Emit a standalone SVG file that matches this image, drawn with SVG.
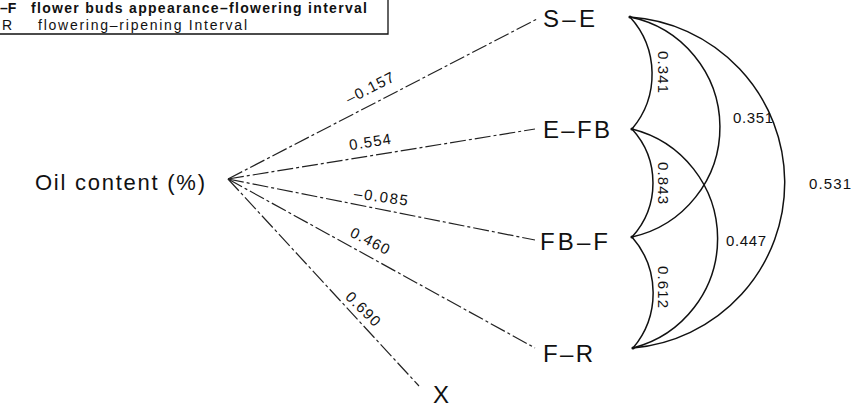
<svg xmlns="http://www.w3.org/2000/svg" width="855" height="411" viewBox="0 0 855 411">
<style>
  .t { font-family: "Liberation Sans", Arial, sans-serif; fill: #111; }
  .node { font-size: 24px; }
  .num { font-size: 15px; }
  .leg { font-size: 14px; }
  .path { fill: none; stroke: #222; stroke-width: 1.2; stroke-dasharray: 16 3 3 3; }
  .arc { fill: none; stroke: #111; stroke-width: 1.5; }
  .box { fill: none; stroke: #111; stroke-width: 1.3; }
</style>
<rect width="855" height="411" fill="#fff"/>

<g id="legend">
  <path class="box" d="M388,0 V34 H0"/>
  <text class="t leg" x="0" y="13" font-weight="bold">–F</text>
  <text class="t leg" x="31" y="13" font-weight="bold" textLength="336" lengthAdjust="spacing">flower buds appearance–flowering interval</text>
  <text class="t leg" x="2" y="30">R</text>
  <text class="t leg" x="38" y="30" textLength="209" lengthAdjust="spacing">flowering–ripening Interval</text>
</g>

<g id="connectors">
  <line class="path" x1="228" y1="179" x2="537" y2="19"/>
  <line class="path" x1="228" y1="179" x2="535" y2="129"/>
  <line class="path" x1="228" y1="179" x2="535" y2="240"/>
  <line class="path" x1="228" y1="179" x2="535" y2="348"/>
  <line class="path" x1="228" y1="179" x2="419" y2="386"/>

  <path class="arc" d="M630,17 A85,85 0 0 1 632,129"/>
  <path class="arc" d="M632,129 A80,80 0 0 1 632,237"/>
  <path class="arc" d="M632,237 A85,85 0 0 1 633,348"/>
  <path class="arc" d="M630,17 A112.5,112.5 0 0 1 632,237"/>
  <path class="arc" d="M632,129 A113,113 0 0 1 633,348"/>
  <path class="arc" d="M630,17 A166,166 0 0 1 633,348"/>
  <circle cx="630" cy="17" r="1.6" fill="#111"/>
  <circle cx="632" cy="129" r="1.6" fill="#111"/>
  <circle cx="632" cy="237" r="1.6" fill="#111"/>
  <circle cx="633" cy="348" r="1.6" fill="#111"/>

  <g text-anchor="middle">
    <text class="t num" transform="translate(370,88) rotate(-27)" y="5" textLength="52" lengthAdjust="spacing">–0.157</text>
    <text class="t num" transform="translate(370,142) rotate(-9)" y="5" textLength="42" lengthAdjust="spacing">0.554</text>
    <text class="t num" transform="translate(381,197) rotate(8)" y="5" textLength="54" lengthAdjust="spacing">–0.085</text>
    <text class="t num" transform="translate(370,241) rotate(27)" y="5" textLength="42" lengthAdjust="spacing">0.460</text>
    <text class="t num" transform="translate(363,309) rotate(45)" y="5" textLength="42" lengthAdjust="spacing">0.690</text>

    <text class="t num" transform="translate(663,72) rotate(90)" y="5" textLength="42" lengthAdjust="spacing">0.341</text>
    <text class="t num" transform="translate(663,183) rotate(90)" y="5" textLength="42" lengthAdjust="spacing">0.843</text>
    <text class="t num" transform="translate(663,287) rotate(90)" y="5" textLength="42" lengthAdjust="spacing">0.612</text>
    <text class="t num" x="753" y="123" textLength="40" lengthAdjust="spacing">0.351</text>
    <text class="t num" x="746" y="246" textLength="40" lengthAdjust="spacing">0.447</text>
    <text class="t num" x="830" y="189" textLength="42" lengthAdjust="spacing">0.531</text>
  </g>
</g>

<g id="oil">
  <text class="t" font-size="22" x="35" y="190" textLength="170" lengthAdjust="spacing">Oil content (%)</text>
</g>
<g id="se"><text class="t node" x="543" y="27" textLength="52" lengthAdjust="spacing">S–E</text></g>
<g id="efb"><text class="t node" x="543" y="138" textLength="67" lengthAdjust="spacing">E–FB</text></g>
<g id="fbf"><text class="t node" x="540" y="250" textLength="68" lengthAdjust="spacing">FB–F</text></g>
<g id="fr"><text class="t node" x="543" y="362" textLength="50" lengthAdjust="spacing">F–R</text></g>
<g id="x"><text class="t node" x="433" y="403">X</text></g>
</svg>
